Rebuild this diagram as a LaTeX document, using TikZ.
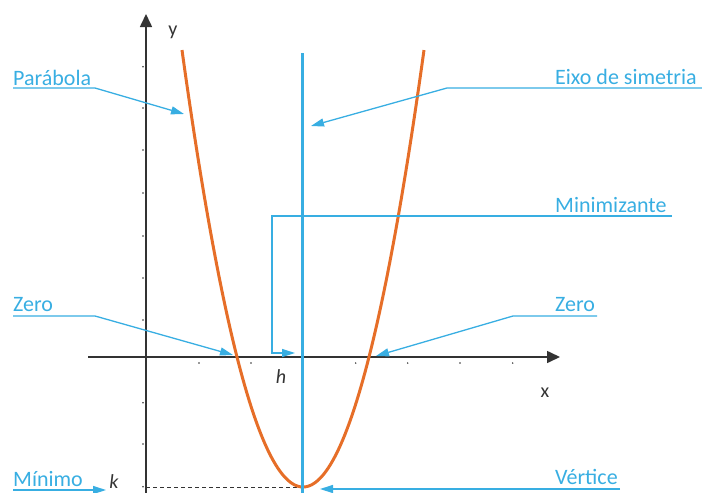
\documentclass[tikz,border=0pt]{standalone}
\usepackage{fontspec}
\setmainfont{Carlito}
\usetikzlibrary{arrows.meta}
\definecolor{cblue}{RGB}{56,174,226}
\definecolor{corange}{RGB}{230,110,40}
\definecolor{cgray}{RGB}{51,51,51}
\begin{document}
\begin{tikzpicture}[x=1pt,y=-1pt,
  lbl/.style={text=cblue,font=\fontsize{22}{22}\selectfont,inner sep=0pt,anchor=base west},
  axl/.style={text=cgray,font=\fontsize{20}{20}\selectfont,inner sep=0pt},
  lead/.style={draw=cblue,line width=1.3pt,-{Triangle[length=13pt,width=8pt]}},
  axisline/.style={draw=cgray,line width=1.6pt,-{Triangle[length=13pt,width=12pt]}},
  tickdot/.style={fill=cgray},
  para/.style={draw=corange,line width=3pt},
  symaxis/.style={draw=cblue,line width=3pt},
  guide/.style={draw=cgray,line width=1pt,dash pattern=on 4pt off 3pt}]
\useasboundingbox (0,0) rectangle (702,493);

% axes
\coordinate (O) at (146,357);
\coordinate (xs) at (88,357);
\coordinate (xe) at (560,357);
\coordinate (ys) at (146,493);
\coordinate (ye) at (146,14);
\draw[axisline] (xs) -- (xe);
\draw[axisline] (ys) -- (ye);
\foreach \t in {66.7,108,150,193,236,278,320,402.7,444,486.7}
  \fill[tickdot] (143,\t) circle (0.8pt);
\foreach \t in {199,251,355.7,407.7,460,512.7}
  \fill[tickdot] (\t,363) circle (0.8pt);
\node[axl] (ylab) at (173,32) {y};
\node[axl] (xlab) at (545,393) {x};
\node[axl,font=\fontsize{20}{20}\selectfont\itshape] (hlab) at (281,377) {h};
\node[axl,font=\fontsize{20}{20}\selectfont\itshape] (klab) at (114,482) {k};

% vertex guide
\coordinate (V) at (303,487);
\coordinate (Vk) at (146,487);
\draw[guide] (Vk) -- (V);

% parabola
\draw[para] plot[domain=182:424,samples=120] ({\x},{487-130*((\x-303)/66)^2});

% axis of symmetry
\coordinate (sTop) at (302,53);
\coordinate (sBot) at (302,493);
\draw[symaxis] (sTop) -- (sBot);

% labels (left)
\node[lbl] (lParab) at (13,85) {Parábola};
\coordinate (uParabA) at (13,88);
\coordinate (uParabB) at (95,88);
\coordinate (tParab) at (184,114);
\draw[lead] (uParabA) -- (uParabB) -- (tParab);

\node[lbl] (lZeroL) at (13,311) {Zero};
\coordinate (uZeroLA) at (13,316);
\coordinate (uZeroLB) at (95,316);
\coordinate (tZeroL) at (233,355);
\draw[lead] (uZeroLA) -- (uZeroLB) -- (tZeroL);

\node[lbl] (lMin) at (13,486.5) {Mínimo};
\coordinate (uMinA) at (13,490);
\coordinate (tMin) at (106,490);
\draw[lead] (uMinA) -- (tMin);

% labels (right)
\node[lbl] (lEixo) at (555,84) {Eixo de simetria};
\coordinate (uEixoA) at (702,88);
\coordinate (uEixoB) at (447,88);
\coordinate (tEixo) at (311,126);
\draw[lead] (uEixoA) -- (uEixoB) -- (tEixo);

\node[lbl] (lMinz) at (555,212) {Minimizante};
\coordinate (uMinzA) at (672,216);
\coordinate (uMinzB) at (272,216);
\coordinate (uMinzC) at (272,353);
\coordinate (tMinz) at (295,353);
\draw[lead] (uMinzA) -- (uMinzB) -- (uMinzC) -- (tMinz);

\node[lbl] (lZeroR) at (555,311) {Zero};
\coordinate (uZeroRA) at (597,316);
\coordinate (uZeroRB) at (513,316);
\coordinate (tZeroR) at (376,356);
\draw[lead] (uZeroRA) -- (uZeroRB) -- (tZeroR);

\node[lbl] (lVert) at (555,484.5) {Vértice};
\coordinate (uVertA) at (620,489);
\coordinate (tVert) at (320,489);
\draw[lead] (uVertA) -- (tVert);
\end{tikzpicture}
\end{document}
